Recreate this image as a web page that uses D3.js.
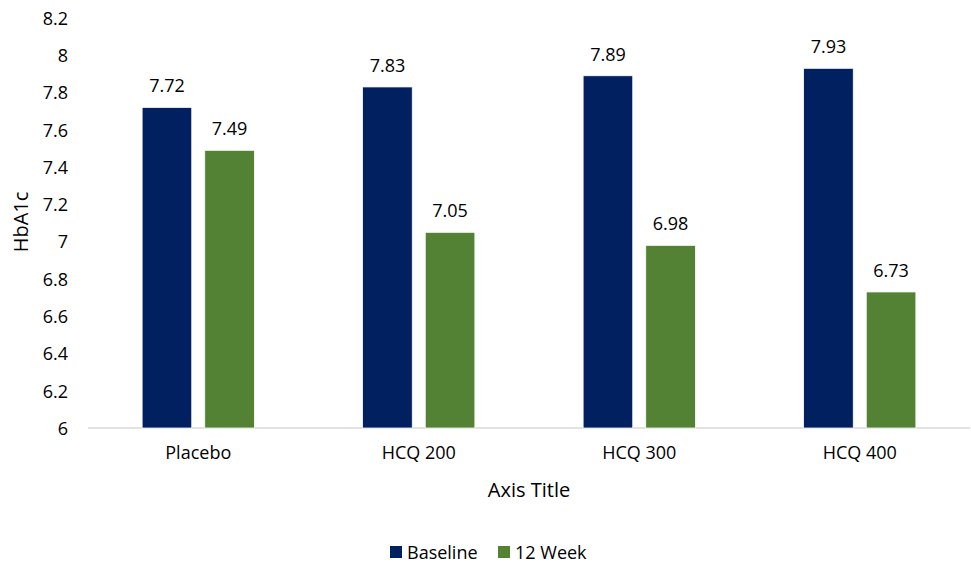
<!DOCTYPE html>
<html>
<head>
<meta charset="utf-8">
<script src="https://cdn.jsdelivr.net/npm/d3@7"></script>
<style>
  body { margin: 0; background: #fff; }
  text { font-family: "Open Sans", sans-serif; fill: #000; }
</style>
</head>
<body>
<svg id="chart" width="971" height="564"></svg>
<script>
const categories = ["Placebo", "HCQ 200", "HCQ 300", "HCQ 400"];
const seriesNames = ["Baseline", "12 Week"];
const baseline = [7.72, 7.83, 7.89, 7.93];
const week12 = [7.49, 7.05, 6.98, 6.73];
const yTicks = [6, 6.2, 6.4, 6.6, 6.8, 7, 7.2, 7.4, 7.6, 7.8, 8, 8.2];
const colors = ["#002060", "#548235"];
const xTitle = "Axis Title";
const yTitle = "HbA1c";

const FONT = "'Open Sans', sans-serif";
const FS = 18;
const svg = d3.select("#chart");
const margin = { left: 88, right: 1, top: 18, bottom: 136 };
const W = 971, H = 564;
const plotB = H - margin.bottom; // 428

const x = d3.scaleBand().domain(categories).range([margin.left, W - margin.right]).paddingInner(0).paddingOuter(0);
const y = d3.scaleLinear().domain([6, 8.2]).range([plotB, margin.top]);

const barW = x.bandwidth() * 0.225;
const gap = x.bandwidth() * 0.059;
const xs = d3.scaleOrdinal().domain(seriesNames).range([-(gap / 2 + barW), gap / 2]);

const series = [baseline, week12];

// axis line
svg.append("line")
  .attr("x1", margin.left).attr("x2", W - margin.right)
  .attr("y1", plotB).attr("y2", plotB)
  .attr("stroke", "#d9d9d9").attr("stroke-width", 1.5);

// y tick labels
const yAxis = d3.axisLeft(y).tickValues(yTicks).tickSize(0).tickPadding(0).tickFormat(d3.format("~g"));
const ya = svg.append("g").attr("transform", "translate(68,0)").call(yAxis);
ya.select(".domain").remove();
ya.selectAll("text").attr("font-size", FS).attr("font-family", FONT).attr("fill", "#000").attr("dy", "0.35em");

// x tick labels
const xAxis = d3.axisBottom(x).tickSize(0).tickPadding(0);
const xa = svg.append("g").attr("transform", `translate(0,${plotB})`).call(xAxis);
xa.select(".domain").remove();
xa.selectAll("text").attr("font-size", FS).attr("font-family", FONT).attr("fill", "#000").attr("dy", "1.7em");

// bars
seriesNames.forEach((s, si) => {
  const g = svg.append("g");
  g.selectAll("rect").data(series[si]).join("rect")
    .attr("x", (d, i) => x(categories[i]) + x.bandwidth() / 2 + xs(s))
    .attr("width", barW)
    .attr("y", d => y(d))
    .attr("height", d => plotB - y(d))
    .attr("fill", colors[si])
    .attr("stroke", "#ffffff").attr("stroke-width", 0.75);
  g.selectAll("text").data(series[si]).join("text")
    .attr("x", (d, i) => x(categories[i]) + x.bandwidth() / 2 + xs(s) + barW / 2)
    .attr("y", d => y(d) - 15)
    .attr("text-anchor", "middle")
    .attr("font-size", FS)
    .text(d => d3.format(".2f")(d));
});

// axis titles
svg.append("text").attr("x", 529).attr("y", 497)
  .attr("text-anchor", "middle").attr("font-size", 20).text(xTitle);
svg.append("text").attr("transform", `translate(28,222) rotate(-90)`)
  .attr("text-anchor", "middle").attr("font-size", 20).text(yTitle);

// legend
const legend = svg.append("g");
const legX = [390, 498];
seriesNames.forEach((s, i) => {
  legend.append("rect").attr("x", legX[i]).attr("y", 546).attr("width", 12).attr("height", 12).attr("fill", colors[i]);
  legend.append("text").attr("x", legX[i] + 17).attr("y", 559).attr("font-size", FS).text(s);
});
</script>
</body>
</html>
